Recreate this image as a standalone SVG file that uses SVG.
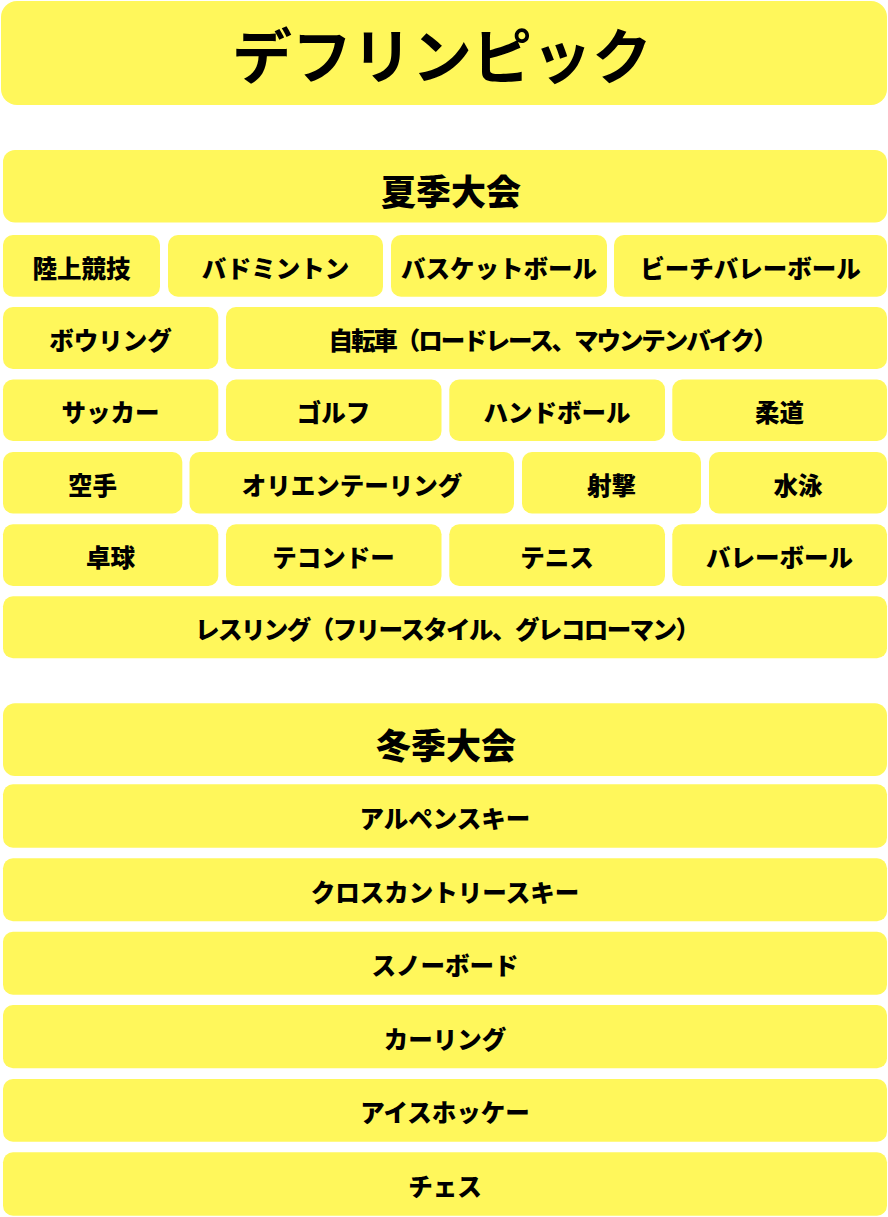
<svg xmlns="http://www.w3.org/2000/svg" width="888" height="1217" viewBox="0 0 888 1217">
<style>
.b{fill:#FFF75B}
.t{font-family:"Noto Sans CJK JP","Noto Sans CJK SC",sans-serif;font-weight:900;font-size:24.5px;fill:#000;text-anchor:middle;dominant-baseline:central}
.s{text-anchor:start}
.h{font-size:35px}
.ti{font-size:60px;font-weight:700}
</style>
<rect width="888" height="1217" fill="#fff"/>
<g id="title"><rect class="b" x="1" y="1" width="886" height="104" rx="16"/><text class="t ti" x="442" y="52">デフリンピック</text></g>
<g id="summer"><rect class="b" x="3" y="150" width="884" height="72.5" rx="12"/><text class="t h" x="451" y="189">夏季大会</text></g>
<g id="s1"><rect class="b" x="3" y="235" width="157" height="61.8" rx="10"/><text class="t" x="81.5" y="267">陸上競技</text></g>
<g id="s2"><rect class="b" x="168" y="235" width="215" height="61.8" rx="10"/><text class="t" x="275.5" y="267">バドミントン</text></g>
<g id="s3"><rect class="b" x="391" y="235" width="216" height="61.8" rx="10"/><text class="t" x="499" y="267">バスケットボール</text></g>
<g id="s4"><rect class="b" x="614" y="235" width="273" height="61.8" rx="10"/><text class="t" x="750.5" y="267">ビーチバレーボール</text></g>
<g id="s5"><rect class="b" x="3" y="307" width="215.3" height="62" rx="10"/><text class="t" x="110.5" y="339">ボウリング</text></g>
<g id="s6"><rect class="b" x="226" y="307" width="661" height="62" rx="10"/><text class="t s" x="328.5" y="339" textLength="449" lengthAdjust="spacing">自転車（ロードレース、マウンテンバイク）</text></g>
<g id="s7"><rect class="b" x="3" y="379.5" width="215.3" height="61.5" rx="10"/><text class="t" x="110.5" y="411.5">サッカー</text></g>
<g id="s8"><rect class="b" x="226" y="379.5" width="215.5" height="61.5" rx="10"/><text class="t" x="333.5" y="411.5">ゴルフ</text></g>
<g id="s9"><rect class="b" x="449.3" y="379.5" width="215.7" height="61.5" rx="10"/><text class="t" x="557" y="411.5">ハンドボール</text></g>
<g id="s10"><rect class="b" x="672.3" y="379.5" width="214.7" height="61.5" rx="10"/><text class="t" x="779.5" y="411.5">柔道</text></g>
<g id="s11"><rect class="b" x="3" y="452" width="179.3" height="61.5" rx="10"/><text class="t" x="92.5" y="484">空手</text></g>
<g id="s12"><rect class="b" x="189.5" y="452" width="324.5" height="61.5" rx="10"/><text class="t" x="352" y="484">オリエンテーリング</text></g>
<g id="s13"><rect class="b" x="522" y="452" width="179" height="61.5" rx="10"/><text class="t" x="611.5" y="484">射撃</text></g>
<g id="s14"><rect class="b" x="709" y="452" width="178" height="61.5" rx="10"/><text class="t" x="798" y="484">水泳</text></g>
<g id="s15"><rect class="b" x="3" y="524.3" width="215.3" height="61.7" rx="10"/><text class="t" x="110.5" y="556.5">卓球</text></g>
<g id="s16"><rect class="b" x="226" y="524.3" width="215.5" height="61.7" rx="10"/><text class="t" x="333.5" y="556.5">テコンドー</text></g>
<g id="s17"><rect class="b" x="449.3" y="524.3" width="215.7" height="61.7" rx="10"/><text class="t" x="557" y="556.5">テニス</text></g>
<g id="s18"><rect class="b" x="672.3" y="524.3" width="214.7" height="61.7" rx="10"/><text class="t" x="779.5" y="556.5">バレーボール</text></g>
<g id="s19"><rect class="b" x="3" y="596.3" width="884" height="62" rx="10"/><text class="t s" x="195" y="628.5" textLength="505" lengthAdjust="spacing">レスリング（フリースタイル、グレコローマン）</text></g>
<g id="winter"><rect class="b" x="3" y="703.3" width="884" height="72.7" rx="12"/><text class="t h" x="446" y="743">冬季大会</text></g>
<g id="w1"><rect class="b" x="3" y="784.3" width="884" height="63.4" rx="10"/><text class="t" x="445" y="817.5">アルペンスキー</text></g>
<g id="w2"><rect class="b" x="3" y="858.3" width="884" height="63" rx="10"/><text class="t" x="445" y="891">クロスカントリースキー</text></g>
<g id="w3"><rect class="b" x="3" y="931.7" width="884" height="63" rx="10"/><text class="t" x="445" y="964.5">スノーボード</text></g>
<g id="w4"><rect class="b" x="3" y="1005" width="884" height="63.3" rx="10"/><text class="t" x="445" y="1038">カーリング</text></g>
<g id="w5"><rect class="b" x="3" y="1079" width="884" height="62.7" rx="10"/><text class="t" x="445" y="1111.5">アイスホッケー</text></g>
<g id="w6"><rect class="b" x="3" y="1152.3" width="884" height="63.4" rx="10"/><text class="t" x="445" y="1185.5">チェス</text></g>
<g id="connectors"/>
</svg>
